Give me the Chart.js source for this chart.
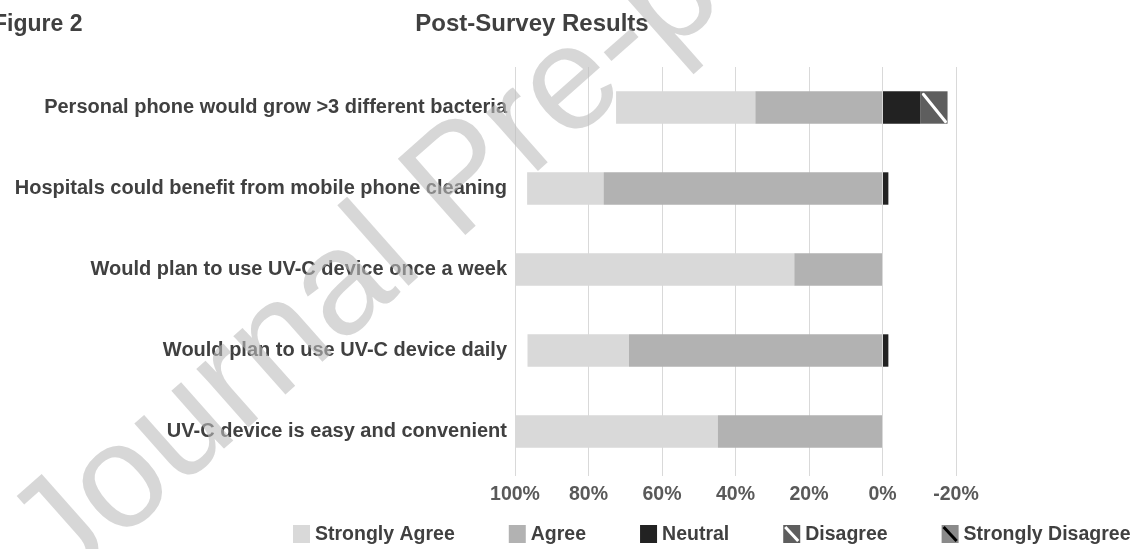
<!DOCTYPE html>
<html>
<head>
<meta charset="utf-8">
<script src="https://cdn.jsdelivr.net/npm/chart.js@4.4.1/dist/chart.umd.min.js"></script>
<style>
  html, body { margin: 0; padding: 0; background: #fff; }
  #wrap { width: 1135px; height: 549px; position: relative; }
</style>
</head>
<body>
<div id="wrap"><canvas id="myChart"></canvas></div>
<script>
const categories = [
  'Personal phone would grow >3 different bacteria',
  'Hospitals could benefit from mobile phone cleaning',
  'Would plan to use UV-C device once a week',
  'Would plan to use UV-C device daily',
  'UV-C device is easy and convenient'
];

// percentages, positive = agreement side (left), negative = right side
const stronglyAgree    = [37.9, 20.8, 76.0, 27.6, 55.2];
const agree            = [34.6, 75.9, 24.0, 69.0, 44.8];
const neutral          = [-10.3, -1.6, 0, -1.6, 0];
const disagree         = [-7.4, 0, 0, 0, 0];
const stronglyDisagree = [0, 0, 0, 0, 0];

const xTicks = [100, 80, 60, 40, 20, 0, -20];
const legendLabels = ['Strongly Agree', 'Agree', 'Neutral', 'Disagree', 'Strongly Disagree'];

const FONT = "'Liberation Sans', Arial, sans-serif";
const textColor = '#404040';

const colors = {
  'Strongly Agree': '#d9d9d9',
  'Agree': '#b2b2b2',
  'Neutral': '#222222',
  'Disagree': '#5e5e5e',
  'Strongly Disagree': '#8a8a8a'
};
const stripe = { 'Disagree': '#ffffff', 'Strongly Disagree': '#000000' };

function ds(label, data) {
  return {
    label: label,
    data: data,
    backgroundColor: colors[label],
    borderWidth: 0,
    categoryPercentage: 0.8,
    barPercentage: 0.5
  };
}

// white / black diagonal drawn over the disagree segments
const stripePlugin = {
  id: 'stripes',
  afterDatasetsDraw(chart) {
    const ctx = chart.ctx;
    chart.data.datasets.forEach((d, i) => {
      if (!stripe[d.label]) return;
      chart.getDatasetMeta(i).data.forEach(el => {
        const p = el.getProps(['x', 'y', 'base', 'height'], true);
        const l = Math.min(p.x, p.base), r = Math.max(p.x, p.base);
        if (r - l < 2) return;
        const t = p.y - p.height / 2, b = p.y + p.height / 2;
        ctx.save();
        ctx.strokeStyle = stripe[d.label];
        ctx.lineWidth = 3;
        ctx.lineCap = 'round';
        ctx.beginPath();
        ctx.moveTo(l + 3, t + 3);
        ctx.lineTo(r - 2, b - 2);
        ctx.stroke();
        ctx.restore();
      });
    });
  }
};

const textPlugin = {
  id: 'texts',
  afterDraw(chart) {
    const ctx = chart.ctx;
    ctx.save();
    ctx.fillStyle = textColor;
    ctx.textBaseline = 'alphabetic';
    ctx.font = 'bold 23px ' + FONT;
    ctx.textAlign = 'left';
    ctx.fillText('Figure 2', -7, 31);
    ctx.font = 'bold 24px ' + FONT;
    ctx.textAlign = 'center';
    ctx.fillText('Post-Survey Results', 532, 31);

    // legend
    ctx.font = 'bold 19.5px ' + FONT;
    ctx.textAlign = 'left';
    ctx.textBaseline = 'middle';
    let x = 293;
    legendLabels.forEach(lbl => {
      ctx.fillStyle = colors[lbl];
      ctx.fillRect(x, 525, 17, 18);
      if (stripe[lbl]) {
        ctx.strokeStyle = stripe[lbl];
        ctx.lineWidth = 3;
        ctx.beginPath();
        ctx.moveTo(x + 2, 527);
        ctx.lineTo(x + 15, 541);
        ctx.stroke();
      }
      ctx.fillStyle = textColor;
      ctx.fillText(lbl, x + 22, 535);
      x += 22 + ctx.measureText(lbl).width + 54;
    });

    // watermark
    ctx.translate(62, 592);
    ctx.rotate(-41.5 * Math.PI / 180);
    ctx.font = '148px ' + FONT;
    ctx.textBaseline = 'alphabetic';
    ctx.fillStyle = 'rgba(188,188,188,0.6)';
    ctx.fillText('Journal Pre-proof', 0, 0);
    ctx.restore();
  }
};

const ctx = document.getElementById('myChart');

new Chart(ctx, {
  type: 'bar',
  data: {
    labels: categories,
    datasets: [
      ds('Agree', agree),
      ds('Strongly Agree', stronglyAgree),
      ds('Neutral', neutral),
      ds('Disagree', disagree),
      ds('Strongly Disagree', stronglyDisagree)
    ]
  },
  options: {
    indexAxis: 'y',
    responsive: true,
    maintainAspectRatio: false,
    animation: false,
    layout: { padding: { top: 67, right: 179, bottom: 47, left: 0 } },
    plugins: {
      legend: { display: false },
      tooltip: { enabled: false },
      title: { display: false }
    },
    scales: {
      x: {
        type: 'linear',
        stacked: true,
        reverse: true,
        min: -20,
        max: 100,
        afterBuildTicks(s) { s.ticks = xTicks.map(v => ({ value: v })); },
        afterFit(s) { s.height = 30; },
        ticks: {
          callback: v => v + '%',
          color: '#595959',
          font: { family: FONT, size: 19.5, weight: 'bold' },
          padding: 7,
          maxRotation: 0
        },
        grid: { color: '#d9d9d9', lineWidth: 1, tickLength: 4 },
        border: { display: false }
      },
      y: {
        stacked: true,
        afterFit(s) { s.width = 515; },
        ticks: {
          color: textColor,
          font: { family: FONT, size: 20, weight: 'bold' },
          padding: 8
        },
        grid: { display: false, drawTicks: false },
        border: { display: false }
      }
    }
  },
  plugins: [stripePlugin, textPlugin]
});
</script>
</body>
</html>
